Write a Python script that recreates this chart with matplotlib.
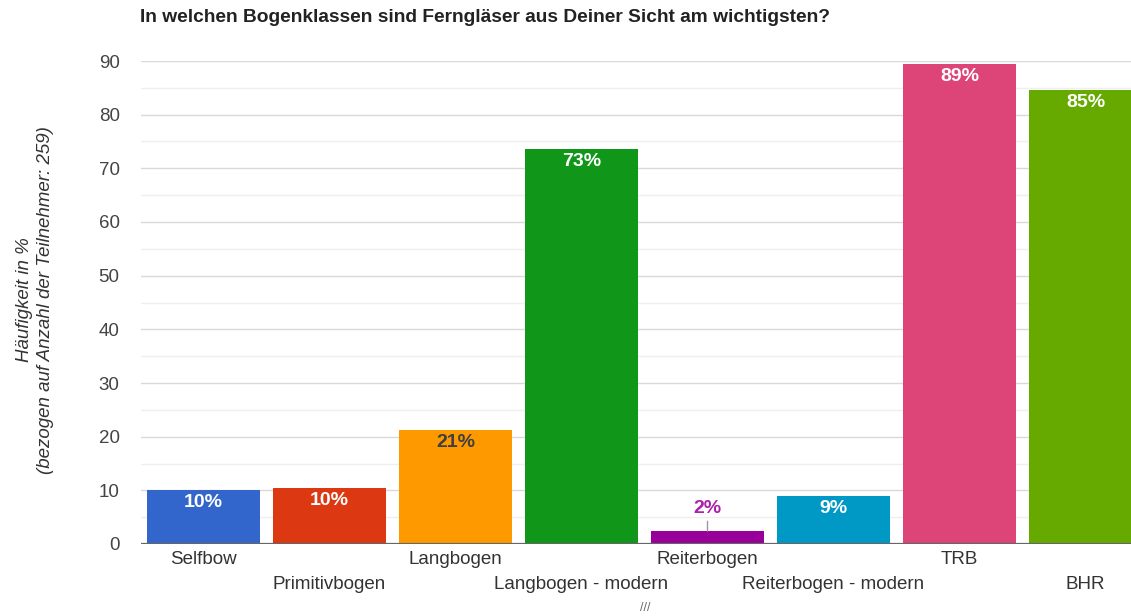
import matplotlib
matplotlib.use("Agg")
import matplotlib.pyplot as plt
import numpy as np

plt.rcParams['font.family'] = ['Liberation Sans', 'DejaVu Sans']

categories = ["Selfbow", "Primitivbogen", "Langbogen", "Langbogen - modern",
              "Reiterbogen", "Reiterbogen - modern", "TRB", "BHR"]
values = [10.1, 10.4, 21.2, 73.6, 2.4, 8.9, 89.4, 84.6]
labels = ["10%", "10%", "21%", "73%", "2%", "9%", "89%", "85%"]
colors = ["#3366cc", "#dc3912", "#ff9900", "#109618",
          "#990099", "#0099c6", "#dd4477", "#66aa00"]
label_colors = ["white", "white", "#404040", "white",
                "#aa22aa", "white", "white", "white"]
yticks = [0, 10, 20, 30, 40, 50, 60, 70, 80, 90]

W, H = 1131, 616
fig = plt.figure(figsize=(W / 100, H / 100), dpi=100)
left_px, right_px = 140.5, 1148.5
top_px, bot_px = 61, 544
ax = fig.add_axes([left_px / W, (H - bot_px) / H,
                   (right_px - left_px) / W, (bot_px - top_px) / H])

x = np.arange(len(categories))
ax.bar(x, values, width=0.9, color=colors, zorder=3)
ax.set_xlim(-0.5, len(categories) - 0.5)
ax.set_ylim(0, 90)

# grid
for y in np.arange(5, 90, 10):
    ax.axhline(y, color="#efefef", lw=1, zorder=1)
for y in yticks[1:]:
    ax.axhline(y, color="#d9d9d9", lw=1, zorder=1)
ax.axhline(0, color="#666666", lw=1.6, zorder=4)

for s in ax.spines.values():
    s.set_visible(False)
ax.set_yticks(yticks)
ax.set_yticklabels([str(t) for t in yticks], fontsize=13.5, color="#444444")
ax.tick_params(axis='y', length=0, pad=15)
ax.set_xticks([])

# category labels staggered
for i, c in enumerate(categories):
    dy = 5 if i % 2 == 0 else 23
    ax.annotate(c, xy=(i, 0), xytext=(0, -dy), textcoords="offset points",
                ha="center", va="top", fontsize=13.5, color="#333333",
                annotation_clip=False)

# value labels
for i, (v, lab, lc) in enumerate(zip(values, labels, label_colors)):
    if v < 5:
        ax.annotate(lab, xy=(i, v), xytext=(0, 10), textcoords="offset points",
                    ha="center", va="bottom", fontsize=14, color=lc,
                    fontweight="bold", zorder=5,
                    arrowprops=dict(arrowstyle="-", color="#999999", lw=1,
                                    shrinkA=1, shrinkB=0))
    else:
        ax.annotate(lab, xy=(i, v), xytext=(0, -3), textcoords="offset points",
                    ha="center", va="top", fontsize=14, color=lc,
                    fontweight="bold", zorder=5)

fig.text(140 / W, 1 - 18 / H, "In welchen Bogenklassen sind Ferngläser aus Deiner Sicht am wichtigsten?",
         ha="left", va="center", fontsize=13.8, fontweight="bold", color="#222222")

fig.text(35 / W, 1 - 300 / H,
         "Häufigkeit in %\n(bezogen auf Anzahl der Teilnehmer: 259)",
         rotation=90, ha="center", va="center", fontsize=13.5, style="italic",
         color="#333333", linespacing=1.3)

fig.text(645 / W, 2 / H, "///", ha="center", va="bottom", fontsize=9,
         color="#666666")

fig.savefig("out.png", dpi=100)
